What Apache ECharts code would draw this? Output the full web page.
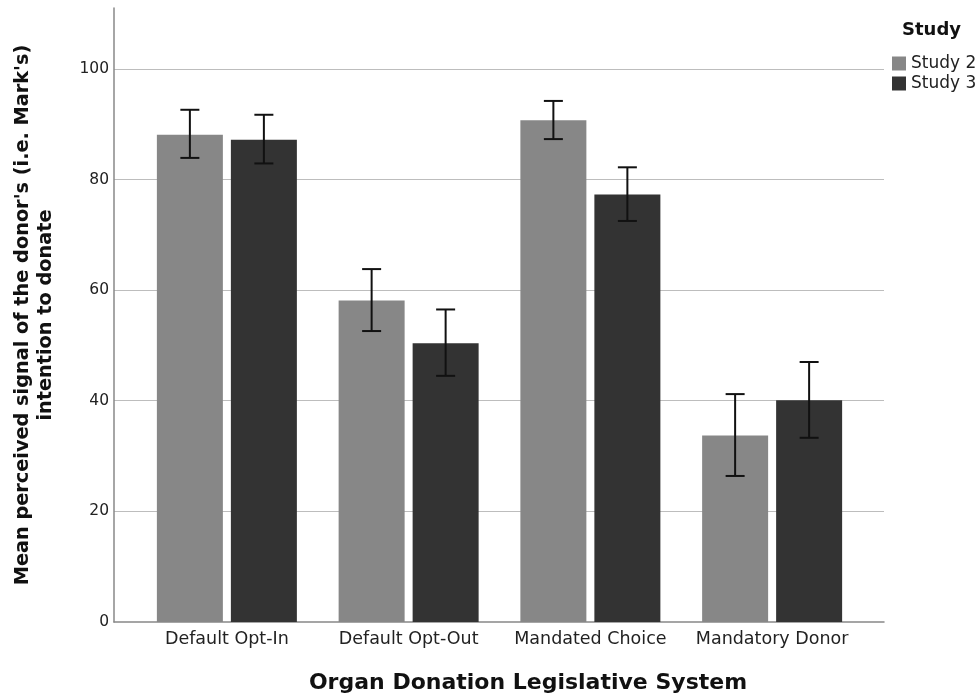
<!DOCTYPE html>
<html>
<head>
<meta charset="utf-8">
<script src="https://cdn.jsdelivr.net/npm/echarts@6/dist/echarts.min.js"></script>
<style>
  html, body { margin: 0; padding: 0; background: #fff; }
  #chart { width: 977px; height: 696px; }
</style>
</head>
<body>
<div id="chart"></div>
<script>
// Legislative systems on the x axis
var categories = ['Default Opt-In', 'Default Opt-Out', 'Mandated Choice', 'Mandatory Donor'];
var seriesNames = ['Study 2', 'Study 3'];

// Mean perceived signal per system
var study2Means = [88.1, 58.1, 90.7, 33.7];
var study3Means = [87.2, 50.4, 77.3, 40.1];

// 95% CI bounds (low, high)
var study2Low  = [83.9, 52.6, 87.3, 26.4];
var study2High = [92.6, 63.8, 94.2, 41.2];
var study3Low  = [82.9, 44.5, 72.5, 33.3];
var study3High = [91.7, 56.5, 82.2, 47.0];

var yTicks = [0, 20, 40, 60, 80, 100];

var BAR_W = 66, BAR_GAP_PX = 8;
var FONT = '"DejaVu Sans", sans-serif';
var BOLD_FONT = '"DejaVu Sans", sans-serif';
var colors = ['#878787', '#333333'];

function errData(lo, hi) {
  return categories.map(function (c, i) { return [i, lo[i], hi[i]]; });
}

function errorRenderer(offsetSign) {
  return function (params, api) {
    var idx = api.value(0);
    var top = api.coord([idx, api.value(2)]);
    var bot = api.coord([idx, api.value(1)]);
    var x = top[0] + offsetSign * (BAR_W + BAR_GAP_PX) / 2;
    var cap = 9.5;
    var style = { stroke: '#111', lineWidth: 2 };
    return {
      type: 'group',
      children: [
        { type: 'line', shape: { x1: x, y1: top[1], x2: x, y2: bot[1] }, style: style },
        { type: 'line', shape: { x1: x - cap, y1: top[1], x2: x + cap, y2: top[1] }, style: style },
        { type: 'line', shape: { x1: x - cap, y1: bot[1], x2: x + cap, y2: bot[1] }, style: style }
      ]
    };
  };
}

var chart = echarts.init(document.getElementById('chart'), null, { renderer: 'canvas' });

var Y_MAX = 111;

chart.setOption({
  animation: false,
  backgroundColor: '#ffffff',
  textStyle: { fontFamily: FONT },
  grid: [
    // bars
    { left: 136, right: 114, top: 8, bottom: 74 },
    // axis frame and gridlines
    { left: 114, right: 93, top: 8, bottom: 74 }
  ],
  xAxis: [
    {
      type: 'category', gridIndex: 0, data: categories,
      axisLine: { show: false }, axisTick: { show: false },
      axisLabel: { color: '#222', fontSize: 17.5, fontFamily: FONT, margin: 8, interval: 0, hideOverlap: false }
    },
    {
      type: 'value', gridIndex: 1, min: 0, max: 1,
      axisLine: { show: true, onZero: false, lineStyle: { color: '#888', width: 1.5 } },
      axisTick: { show: false }, axisLabel: { show: false }, splitLine: { show: false }
    }
  ],
  yAxis: [
    {
      type: 'value', gridIndex: 0, min: 0, max: Y_MAX,
      axisLine: { show: false }, axisTick: { show: false },
      axisLabel: { show: false }, splitLine: { show: false }
    },
    {
      type: 'value', gridIndex: 1, min: 0, max: Y_MAX, interval: 20,
      axisLine: { show: true, lineStyle: { color: '#888', width: 1.5 } },
      axisTick: { show: false },
      axisLabel: {
        color: '#222', fontSize: 15.5, fontFamily: FONT, margin: 5,
        formatter: function (v) { return yTicks.indexOf(v) >= 0 ? String(v) : ''; }
      },
      splitLine: { show: true, showMinLine: false, showMaxLine: false, lineStyle: { color: '#bdbdbd', width: 1.2 } },
      name: "Mean perceived signal of the donor's (i.e. Mark's)\nintention to donate",
      nameLocation: 'middle',
      nameGap: 57,
      nameTextStyle: { color: '#111', fontSize: 19.3, fontWeight: 'bold', fontFamily: BOLD_FONT, lineHeight: 23, align: 'center' }
    }
  ],
  legend: {
    data: seriesNames,
    orient: 'vertical',
    left: 887, top: 50,
    itemWidth: 14, itemHeight: 14, itemGap: 3,
    icon: 'rect',
    textStyle: { color: '#222', fontSize: 17, lineHeight: 17, fontFamily: FONT }
  },
  graphic: [
    {
      type: 'text', left: 902, top: 21,
      style: { text: 'Study', fill: '#111', font: 'bold 18px ' + BOLD_FONT }
    },
    {
      type: 'text', x: 528, y: 683,
      style: {
        text: 'Organ Donation Legislative System', fill: '#111',
        font: 'bold 22px ' + BOLD_FONT, textAlign: 'center', textVerticalAlign: 'middle'
      }
    }
  ],
  series: [
    {
      name: seriesNames[0], type: 'bar', xAxisIndex: 0, yAxisIndex: 0,
      data: study2Means, barWidth: BAR_W, barGap: (BAR_GAP_PX / BAR_W * 100) + '%',
      itemStyle: { color: colors[0] }
    },
    {
      name: seriesNames[1], type: 'bar', xAxisIndex: 0, yAxisIndex: 0,
      data: study3Means, barWidth: BAR_W, barGap: (BAR_GAP_PX / BAR_W * 100) + '%',
      itemStyle: { color: colors[1] }
    },
    {
      type: 'custom', xAxisIndex: 0, yAxisIndex: 0, z: 5,
      renderItem: errorRenderer(-1), data: errData(study2Low, study2High)
    },
    {
      type: 'custom', xAxisIndex: 0, yAxisIndex: 0, z: 5,
      renderItem: errorRenderer(1), data: errData(study3Low, study3High)
    }
  ]
});
</script>
</body>
</html>
